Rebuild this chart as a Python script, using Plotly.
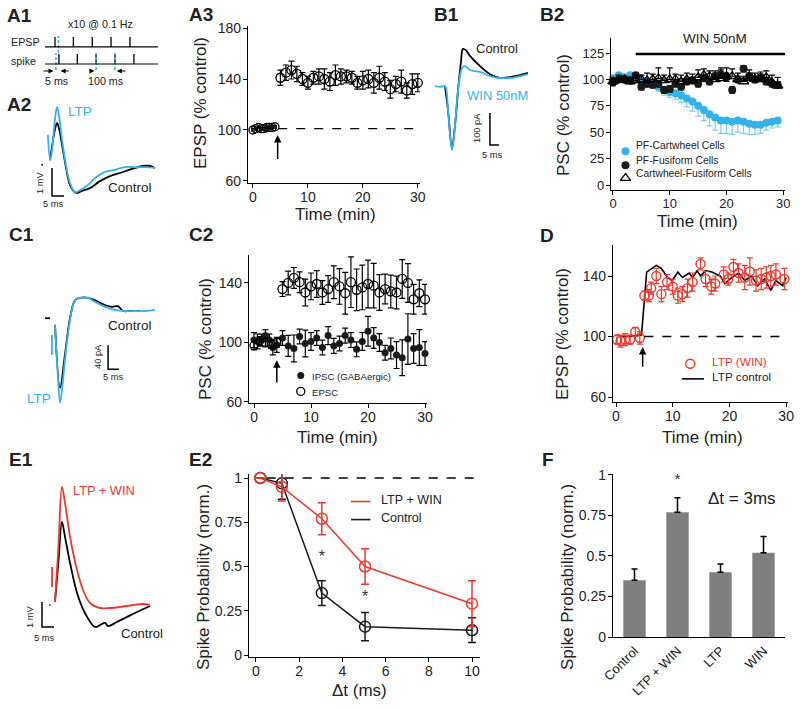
import plotly.graph_objects as go

W, H = 800, 710
FONT = "Arial, Liberation Sans, sans-serif"
DARK = "#222222"
BLUE = "#35b3e8"
BLUE_ERR = "#7fcdee"
RED = "#e83a2f"
GRAY = "#7f7f7f"

# ---------------- DATA ----------------
# A1 schematic (pulse times in units of 100 ms)
a1_epsp_pulses = [0.0, 0.98, 1.99, 2.99, 4.0]
a1_spike_pulses = [0.21, 1.19, 2.19, 3.2, 4.21]
a1_paired_epsp = [0.18]
a1_paired_spike = [0.05, 2.19, 3.2]

# A2 traces (ms, mV)
a2_ltp_t = [3.3, 4.2, 5.0, 6.2, 7.1, 7.9, 9.2, 10.8, 12.5, 14.6, 16.7, 20.0, 22.9, 27.1, 31.2, 35.4, 39.6, 43.8, 47.9]
a2_ltp_v = [2.86, 1.96, 2.3, 3.39, 3.86, 3.57, 2.68, 1.79, 1.14, 0.82, 0.89, 1.07, 1.32, 1.54, 1.61, 1.71, 1.71, 1.71, 1.68]
a2_ctl_t = [4.2, 6.2, 7.1, 7.9, 9.2, 10.8, 12.5, 15.0, 17.5, 20.8, 25.0, 29.2, 33.3, 39.6, 42.9, 45.8, 47.9]
a2_ctl_v = [1.96, 3.04, 3.29, 3.1, 2.5, 1.71, 1.07, 0.79, 0.86, 0.96, 1.21, 1.39, 1.5, 1.68, 1.75, 1.75, 1.68]

# A3 EPSP time course
a3_base_t = [0, 0.5, 1, 1.5, 2, 2.5, 3, 3.5, 4]
a3_base_v = [100, 101, 102, 101, 101, 102, 102, 102, 102.5]
a3_base_e = [1, 1, 1, 1, 1, 1, 1, 1, 1]
a3_post_t = [5, 6, 7, 8, 9, 10, 11, 12, 13, 14, 15, 16, 17, 18, 19, 20, 21, 22, 23, 24, 25, 26, 27, 28, 29, 30]
a3_post_v = [141, 145, 147, 144, 140, 137, 141, 142, 140, 138, 143, 142, 142, 141, 137, 139, 140, 137, 141, 138, 132, 136, 138, 131, 136, 137]
a3_post_e = [6, 6, 7, 6, 5, 5, 5, 6, 8, 7, 8, 6, 5, 5, 5, 7, 7, 8, 9, 7, 7, 6, 9, 6, 8, 7]

# B1 traces (ms, pA)
b1_win_t = [2.8, 5.6, 8.3, 10.0, 12.2, 13.9, 15.6, 17.8, 19.4, 22.2, 27.8, 33.3, 38.9, 44.4, 50.0, 54.4]
b1_win_i = [0, -3, 0, -75, -200, -122, -12, 56, 62, 50, 44, 31, 25, 25, 31, 37]
b1_ctl_t = [8.3, 10.0, 12.2, 13.9, 15.6, 17.2, 18.3, 20.0, 22.2, 27.8, 33.3, 38.9, 44.4, 50.0, 54.4]
b1_ctl_i = [0, -75, -194, -122, -12, 75, 116, 112, 94, 62, 37, 25, 28, 34, 41]

# B2 time course
b2_t = [0, 1, 2, 3, 4, 5, 6, 7, 8, 9, 10, 11, 12, 13, 14, 15, 16, 17, 18, 19, 20, 21, 22, 23, 24, 25, 26, 27, 28, 29]
b2_cart_v = [101, 104, 102, 104, 100, 99, 98, 96, 93, 90, 88, 87, 85, 82, 79, 75, 71, 67, 64, 61, 61, 60, 61, 60, 58, 57, 57, 59, 60, 61]
b2_cart_e = [2, 2, 2, 2, 2, 2, 2, 3, 4, 5, 5, 6, 7, 8, 9, 10, 10, 11, 12, 12, 12, 12, 11, 11, 10, 9, 8, 7, 6, 6]
b2_fus_v = [97, 100, 100, 99, 104, 93, 96, 95, 96, 90, 91, 96, 93, 98, 99, 96, 101, 98, 103, 105, 102, 90, 100, 110, 103, 100, 102, 98, 96, 95]
b2_fus_e = [3, 2, 3, 3, 2, 3, 3, 3, 3, 3, 3, 3, 3, 3, 3, 3, 3, 3, 3, 4, 4, 3, 3, 3, 3, 3, 3, 3, 3, 3]
b2_cf_v = [98, 100, 100, 98, 99, 100, 99, 100, 101, 99, 100, 100, 98, 100, 99, 102, 104, 103, 100, 101, 103, 103, 100, 98, 101, 100, 100, 102, 97, 94]
b2_cf_e = [3, 4, 3, 4, 5, 4, 7, 5, 10, 5, 11, 5, 6, 6, 6, 7, 6, 5, 8, 10, 8, 7, 6, 5, 8, 6, 7, 6, 7, 8]
b2_win_start = 4

# C1 traces (ms, pA)
c1_ltp_t = [9.1, 10.2, 11.4, 12.5, 13.6, 15.9, 18.2, 20.5, 24.1, 27.3, 31.8, 36.4, 40.9, 45.5, 50.0, 54.5]
c1_ltp_i = [-23, -98, -153, -123, -82, -15, 18, 22, 22, 15, 7, 2, 0, 0, 0, 2]
c1_ctl_t = [9.1, 11.4, 13.6, 15.9, 18.2, 20.5, 24.1, 27.3, 31.8, 35.0, 37.7, 40.0, 43.2, 47.7]
c1_ctl_i = [-23, -128, -73, -12, 18, 22, 22, 18, 10, 7, 8, 0, 0, 0]

# C2 time course
c2_ipsc_t = [0, 0.6, 1.3, 2, 2.7, 3.3, 4, 5, 6, 7, 8, 9, 10, 11, 12, 13, 14, 15, 16, 17, 18, 19, 20, 21, 22, 23, 24, 25, 26, 27, 28, 29, 30]
c2_ipsc_v = [101.6, 100.7, 101.6, 104.6, 101.6, 96.6, 98.4, 103, 97.7, 96, 104, 99.3, 100.7, 103, 96.6, 104.6, 97.7, 99.3, 104.6, 101.6, 95.4, 100.7, 107.5, 103, 100, 93.1, 96, 91.5, 89.7, 102.3, 96, 96.6, 92.5]
c2_ipsc_e = [5, 5, 4, 4, 4, 5, 5, 5, 7, 9, 5, 9, 6, 5, 5, 6, 5, 5, 5, 5, 5, 6, 10, 7, 6, 5, 7, 9, 12, 17, 10, 12, 8]
c2_epsc_base_t = [0, 1, 2, 3, 4]
c2_epsc_base_v = [98, 101, 100, 99, 100]
c2_epsc_base_e = [3, 3, 3, 3, 3]
c2_epsc_t = [5, 6, 7, 8, 9, 10, 11, 12, 13, 14, 15, 16, 17, 18, 19, 20, 21, 22, 23, 24, 25, 26, 27, 28, 29, 30]
c2_epsc_v = [135.9, 140, 143.4, 140.5, 133.6, 137.7, 139.3, 133.6, 135.9, 140.5, 137.7, 133.1, 140.5, 135.4, 137, 139.3, 138.2, 133.6, 135.9, 134.3, 133.6, 142.7, 140, 129, 133.1, 129]
c2_epsc_e = [5, 8, 7, 7, 9, 9, 9, 8, 9, 11, 12, 14, 17, 14, 15, 16, 15, 12, 10, 11, 11, 13, 13, 10, 9, 10]

# D time course
d_win_t = [0.2, 0.8, 1.6, 2.5, 3.4, 4.2, 5, 5.8, 6.2, 7.1, 8, 9, 10, 10.9, 11.7, 12.6, 13.5, 14.9, 15.8, 16.8, 17.5, 19, 19.8, 20.7, 21.6, 22.7, 23.6, 24.7, 25.6, 26.5, 27.3, 28.2, 29.7]
d_win_v = [98, 97, 98, 98, 103, 99, 127, 127, 132, 140, 128, 136, 133, 127, 128, 132, 136, 148, 138, 133, 135, 141, 138, 146, 142, 139, 143, 137, 138, 139, 140, 141, 138]
d_win_e = [3, 4, 4, 3, 3, 4, 3, 4, 4, 5, 5, 5, 5, 5, 5, 6, 6, 4, 5, 5, 5, 5, 4, 5, 6, 8, 9, 7, 7, 7, 7, 7, 7]
d_ctl_t = [0.5, 2, 4.5, 5.4, 7.1, 8, 9.1, 9.9, 10.9, 11.7, 12.9, 13.5, 14.3, 14.9, 15.8, 16.9, 18.4, 19.2, 20.4, 21.6, 22.7, 23.9, 25, 26.2, 27.3, 28.2, 29.4, 30]
d_ctl_v = [100, 100, 101, 142.6, 147, 145, 139, 137, 142.6, 139, 142, 139, 143.5, 140, 143.5, 142.6, 140, 135, 139, 142, 137, 140, 133.5, 138, 130.5, 137, 133.5, 139]

# E1 traces (ms, mV)
e1_win_t = [10.4, 11.9, 13.3, 14.6, 16.7, 19.6, 22.1, 25.0, 29.2, 33.3, 37.5, 42.9, 47.1, 50.0]
e1_win_v = [1.92, 4.2, 6.52, 5.88, 4.52, 3.2, 2.4, 1.88, 1.68, 1.68, 1.72, 1.8, 1.84, 1.8]
e1_ctl_t = [10.4, 11.9, 13.3, 14.6, 16.7, 19.6, 22.9, 27.1, 29.2, 31.25, 32.5, 36.25, 40.4, 44.6, 50.0]
e1_ctl_v = [1.92, 3.6, 5.12, 4.52, 3.48, 2.28, 1.48, 0.92, 1.0, 1.08, 0.96, 1.12, 1.32, 1.52, 1.76]

# E2 spike probability vs delta t
e2_dt = [0.2, 1.2, 3.05, 5.05, 10]
e2_win_v = [1, 0.95, 0.77, 0.5, 0.29]
e2_win_e = [0, 0.08, 0.09, 0.1, 0.13]
e2_ctl_v = [1, 0.97, 0.35, 0.16, 0.14]
e2_ctl_e = [0, 0.09, 0.07, 0.08, 0.07]
e2_sig_dt = [3.05, 5.05]
e2_sig_y = [0.55, 0.32]

# F bar chart
f_cats = ["Control", "LTP + WIN", "LTP", "WIN"]
f_vals = [0.35, 0.77, 0.40, 0.52]
f_errs = [0.07, 0.09, 0.05, 0.10]

# ---------------- FIGURE ----------------
fig = go.Figure()
layout = dict(width=W, height=H, autosize=False, margin=dict(l=0, r=0, t=0, b=0, pad=0, autoexpand=False),
              paper_bgcolor="white", plot_bgcolor="white", showlegend=False,
              font=dict(family=FONT, color=DARK))
shapes = []
anns = []


def ref(i):
    return ("x" if i == 1 else f"x{i}", "y" if i == 1 else f"y{i}")


def add_axes(i, x0, x1, y0, y1, xr, yr, visible=False, xticks=None, yticks=None,
             tsize=14, xcat=False):
    xn, yn = ref(i)
    xk = "xaxis" if i == 1 else f"xaxis{i}"
    yk = "yaxis" if i == 1 else f"yaxis{i}"
    base = dict(showgrid=False, zeroline=False, fixedrange=True, automargin=False)
    if visible:
        st = dict(showline=True, linecolor="black", linewidth=1.3, ticks="outside",
                  ticklen=4, tickwidth=1.3, tickcolor="black",
                  tickfont=dict(family=FONT, size=tsize, color=DARK))
    else:
        st = dict(visible=False)
    xa = dict(domain=[x0 / W, x1 / W], range=xr, anchor=yn, **base, **st)
    ya = dict(domain=[1 - y1 / H, 1 - y0 / H], range=yr, anchor=xn, **base, **st)
    if visible:
        xa["ticklabelstandoff"] = -3
        ya["ticklabelstandoff"] = -1
    if xticks is not None:
        xa.update(tickmode="array", tickvals=xticks)
    if yticks is not None:
        ya.update(tickmode="array", tickvals=yticks)
    if xcat:
        xa.update(type="category", ticks="", tickangle=-45, ticklabelstandoff=0,
                  tickfont=dict(family=FONT, size=13, color=DARK))
    layout[xk] = xa
    layout[yk] = ya


def add(i, **kw):
    xn, yn = ref(i)
    kw.setdefault("cliponaxis", False)
    fig.add_trace(go.Scatter(xaxis=xn, yaxis=yn, hoverinfo="skip", **kw))


def txt(s, x, y, size=13, color=DARK, xanchor="center", yanchor="middle", angle=0, bold=False):
    if bold:
        s = f"<b>{s}</b>"
    anns.append(dict(text=s, x=x / W, y=1 - y / H, xref="paper", yref="paper",
                     xanchor=xanchor, yanchor=yanchor, showarrow=False, textangle=angle,
                     font=dict(family=FONT, size=size, color=color)))


def arrow(i, x, y, axv, ayv, width=1.5):
    xn, yn = ref(i)
    anns.append(dict(text="", x=x, y=y, ax=axv, ay=ayv, xref=xn, yref=yn, axref=xn, ayref=yn,
                     showarrow=True, arrowhead=2, arrowsize=1, arrowwidth=width, arrowcolor="black"))


def hline(i, x0, x1, y, dash="dash", width=1.3, color="black"):
    xn, yn = ref(i)
    shapes.append(dict(type="line", xref=xn, yref=yn, x0=x0, x1=x1, y0=y, y1=y,
                       line=dict(color=color, width=width, dash=dash)))


# ---- axes ----
add_axes(1, 40, 165, 25, 95, [-0.8, 5.87], [-1.82, 2.29])               # A1 schematic
add_axes(2, 40, 165, 100, 215, [0, 52.08], [0, 4.107])                  # A2 traces
add_axes(3, 248, 420, 26, 183, [-0.9, 30.4], [58.4, 181.6], True, [0, 10, 20, 30], [60, 100, 140, 180])
add_axes(4, 430, 535, 40, 160, [0, 58.33], [-231.25, 143.75])           # B1 traces
add_axes(5, 611, 785, 38, 190, [-0.35, 30.3], [-4.7, 139.2], True, [0, 10, 20, 30], [0, 25, 50, 75, 100, 125], tsize=13)
add_axes(6, 35, 160, 280, 410, [0, 56.8], [-165, 51.7])                 # C1 traces
add_axes(7, 249, 427, 255, 403, [-0.88, 30.35], [59.3, 158.8], True, [0, 10, 20, 30], [60, 100, 140])
add_axes(8, 613, 788, 245, 402, [-0.53, 30.33], [56.7, 160.5], True, [0, 10, 20, 30], [60, 100, 140])
add_axes(9, 30, 160, 480, 650, [0, 54.17], [0, 6.8])                    # E1 traces
add_axes(10, 249, 480, 474, 657, [-0.32, 10.37], [-0.0113, 1.0226], True, [0, 2, 4, 6, 8, 10], [0, 0.25, 0.5, 0.75, 1])
add_axes(11, 613, 785, 474, 637, [-0.5, 3.5], [0, 1.006], True, None, [0, 0.25, 0.5, 0.75, 1], xcat=True)

# ---- A1 schematic ----
for base_y, pulses in ((1, a1_epsp_pulses), (0, a1_spike_pulses)):
    hline(1, -0.53, 5.49, base_y, dash="solid", width=1.2)
    xs, ys = [], []
    for p in pulses:
        xs += [p, p, None]
        ys += [base_y, base_y + 0.59, None]
    add(1, x=xs, y=ys, mode="lines", line=dict(color="black", width=1.3))
for base_y, pulses in ((1, a1_paired_epsp), (0, a1_paired_spike)):
    xs, ys = [], []
    for p in pulses:
        xs += [p, p, None]
        ys += [base_y - 0.35, base_y + 0.65, None]
    add(1, x=xs, y=ys, mode="lines", line=dict(color=BLUE, width=1.5, dash="3px,2px"))
arrow(1, -0.08, -0.41, -0.69, -0.41, 1)
arrow(1, 0.3, -0.41, 0.8, -0.41, 1)
arrow(1, 2.1, -0.41, 1.85, -0.41, 1)
arrow(1, 3.3, -0.41, 3.85, -0.41, 1)
txt("x10 @ 0.1 Hz", 100, 24, 10.7)
txt("EPSP", 42, 42, 10.7, xanchor="right")
txt("spike", 38, 61, 10.7, xanchor="right")
txt("5 ms", 57, 81, 10.7)
txt("100 ms", 105, 81, 10.7)

# ---- A2 traces ----
add(2, x=[0.6, 1.2], y=[1.79, 1.79], mode="lines", line=dict(color="black", width=1.8))
add(2, x=a2_ctl_t, y=a2_ctl_v, mode="lines", line=dict(color="black", width=1.8, shape="spline"))
add(2, x=a2_ltp_t, y=a2_ltp_v, mode="lines", line=dict(color=BLUE, width=1.8, shape="spline"))
add(2, x=[5, 5, 10], y=[1.68, 0.68, 0.68], mode="lines", line=dict(color="black", width=1.5))
txt("LTP", 66, 111, 13.5, BLUE, xanchor="left")
txt("Control", 130, 187, 13.5)
txt("1 mV", 40, 183, 9.3, angle=-90)
txt("5 ms", 53, 204, 9.3)

# ---- A3 ----
add(3, x=a3_base_t, y=a3_base_v, mode="markers",
    marker=dict(symbol="circle-open", size=8, color="black", line=dict(width=1.3)),
    error_y=dict(type="data", array=a3_base_e, color="black", thickness=1.2, width=2))
add(3, x=a3_post_t, y=a3_post_v, mode="markers",
    marker=dict(symbol="circle-open", size=9, color="black", line=dict(width=1.3)),
    error_y=dict(type="data", array=a3_post_e, color="black", thickness=1.2, width=3))
hline(3, 4.6, 30, 101)
arrow(3, 4.5, 96, 4.5, 76)
txt("EPSP (% control)", 200, 103, 17, angle=-90)
txt("Time (min)", 335, 214, 17)

# ---- B1 traces ----
add(4, x=b1_ctl_t, y=b1_ctl_i, mode="lines", line=dict(color="black", width=1.8, shape="spline"))
add(4, x=b1_win_t, y=b1_win_i, mode="lines", line=dict(color=BLUE, width=1.8, shape="spline"))
add(4, x=[33.3, 33.3, 38.3], y=[-84, -184, -184], mode="lines", line=dict(color="black", width=1.5))
txt("Control", 497, 48, 13)
txt("WIN 50nM", 497, 95, 13, BLUE)
txt("100 pA", 477, 128, 9.3, angle=-90)
txt("5 ms", 492, 155, 9.3)

# ---- B2 ----
add(5, x=b2_t, y=b2_cart_v, mode="markers",
    marker=dict(symbol="circle", size=8, color=BLUE),
    error_y=dict(type="data", symmetric=False, array=[0] * len(b2_t), arrayminus=b2_cart_e,
                 color=BLUE_ERR, thickness=1.2, width=3))
add(5, x=b2_t, y=b2_fus_v, mode="markers",
    marker=dict(symbol="circle", size=8, color="#1a1a1a"),
    error_y=dict(type="data", array=b2_fus_e, color="black", thickness=1.2, width=3))
add(5, x=b2_t, y=b2_cf_v, mode="markers",
    marker=dict(symbol="triangle-up-open", size=9, color="black", line=dict(width=1.3)),
    error_y=dict(type="data", symmetric=False, array=b2_cf_e, arrayminus=[0] * len(b2_t),
                 color="black", thickness=1.2, width=3))
hline(5, b2_win_start, 30.3, 124, dash="solid", width=2.5)
txt("WIN 50nM", 715, 38, 13.5)
txt("PSC (% control)", 563, 115, 17, angle=-90)
txt("Time (min)", 697, 221, 17)
# legend
add(5, x=[2.2], y=[32], mode="markers", marker=dict(symbol="circle", size=8, color=BLUE))
add(5, x=[2.2], y=[18.8], mode="markers", marker=dict(symbol="circle", size=8, color="#1a1a1a"))
add(5, x=[2.2], y=[6.5], mode="markers", marker=dict(symbol="triangle-up-open", size=9, color="black", line=dict(width=1.3)))
txt("PF-Cartwheel Cells", 634, 146, 10.3, xanchor="left")
txt("PF-Fusiform Cells", 634, 160, 10.3, xanchor="left")
txt("Cartwheel-Fusiform Cells", 634, 173, 10.3, xanchor="left")

# ---- C1 traces ----
add(6, x=[4.5, 6.8], y=[-12, -12], mode="lines", line=dict(color="black", width=1.8))
add(6, x=[7.7, 7.7], y=[-40, -73], mode="lines", line=dict(color=BLUE, width=1.8))
add(6, x=c1_ctl_t, y=c1_ctl_i, mode="lines", line=dict(color="black", width=1.8, shape="spline"))
add(6, x=c1_ltp_t, y=c1_ltp_i, mode="lines", line=dict(color=BLUE, width=1.8, shape="spline"))
add(6, x=[33.2, 33.2, 38.2], y=[-57, -97, -97], mode="lines", line=dict(color="black", width=1.5))
txt("Control", 130, 325, 13.5)
txt("LTP", 39, 398, 13.5, BLUE)
txt("40 pA", 98, 357, 9.3, angle=-90)
txt("5 ms", 113, 377, 9.3)

# ---- C2 ----
add(7, x=c2_ipsc_t, y=c2_ipsc_v, mode="markers",
    marker=dict(symbol="circle", size=7, color="#1a1a1a"),
    error_y=dict(type="data", array=c2_ipsc_e, color="black", thickness=1.2, width=3))
add(7, x=c2_epsc_base_t, y=c2_epsc_base_v, mode="markers",
    marker=dict(symbol="circle-open", size=8, color="black", line=dict(width=1.3)),
    error_y=dict(type="data", array=c2_epsc_base_e, color="black", thickness=1.2, width=3))
add(7, x=c2_epsc_t, y=c2_epsc_v, mode="markers",
    marker=dict(symbol="circle-open", size=9, color="black", line=dict(width=1.3)),
    error_y=dict(type="data", array=c2_epsc_e, color="black", thickness=1.2, width=3))
arrow(7, 4, 88, 4, 72)
add(7, x=[8.2], y=[77.8], mode="markers", marker=dict(symbol="circle", size=7, color="#1a1a1a"))
add(7, x=[8.2], y=[67.1], mode="markers", marker=dict(symbol="circle-open", size=8, color="black", line=dict(width=1.3)))
txt("IPSC (GABAergic)", 310, 376, 9.6, xanchor="left")
txt("EPSC", 310, 392, 9.6, xanchor="left")
txt("PSC (% control)", 205, 339, 17, angle=-90)
txt("Time (min)", 337, 438, 17)

# ---- D ----
add(8, x=d_ctl_t, y=d_ctl_v, mode="lines", line=dict(color="black", width=1.6))
add(8, x=d_win_t, y=d_win_v, mode="markers",
    marker=dict(symbol="circle-open", size=9, color=RED, line=dict(width=1.4)),
    error_y=dict(type="data", array=d_win_e, color=RED, thickness=1.2, width=3))
hline(8, 5, 30, 100)
arrow(8, 4.7, 93, 4.7, 79)
add(8, x=[13.1], y=[82], mode="markers", marker=dict(symbol="circle-open", size=9, color=RED, line=dict(width=1.4)))
hline(8, 11.6, 15.5, 72, dash="solid", width=1.6)
txt("LTP (WIN)", 710, 362, 11.8, RED, xanchor="left")
txt("LTP control", 710, 377.5, 11.8, xanchor="left")
txt("EPSP (% control)", 562, 334, 17, angle=-90)
txt("Time (min)", 702, 438, 17)

# ---- E1 traces ----
add(9, x=[9.2, 9.2], y=[3.32, 2.52], mode="lines", line=dict(color=RED, width=1.8))
add(9, x=[8.1, 8.5], y=[1.8, 1.8], mode="lines", line=dict(color="black", width=1.8))
add(9, x=e1_ctl_t, y=e1_ctl_v, mode="lines", line=dict(color="black", width=1.8, shape="spline"))
add(9, x=e1_win_t, y=e1_win_v, mode="lines", line=dict(color=RED, width=1.8, shape="spline"))
add(9, x=[5, 5, 10], y=[1.92, 0.92, 0.92], mode="lines", line=dict(color="black", width=1.5))
txt("LTP + WIN", 104, 490, 12.8, RED)
txt("Control", 142, 633, 13)
txt("1 mV", 30, 617, 9.3, angle=-90)
txt("5 ms", 44, 638, 9.3)

# ---- E2 ----
hline(10, 0.5, 10.5, 1)
add(10, x=e2_dt, y=e2_ctl_v, mode="lines+markers", line=dict(color="#1a1a1a", width=1.5),
    marker=dict(symbol="circle-open", size=11, color="#1a1a1a", line=dict(width=1.5)),
    error_y=dict(type="data", array=e2_ctl_e, color="#1a1a1a", thickness=1.5, width=4))
add(10, x=e2_dt, y=e2_win_v, mode="lines+markers", line=dict(color=RED, width=1.5),
    marker=dict(symbol="circle-open", size=11, color=RED, line=dict(width=1.5)),
    error_y=dict(type="data", array=e2_win_e, color=RED, thickness=1.5, width=4))
add(10, x=e2_sig_dt, y=e2_sig_y, mode="text", text=["*", "*"],
    textfont=dict(family=FONT, size=16, color="#333"))
hline(10, 4.4, 5.3, 0.867, dash="solid", width=1.6, color=RED)
hline(10, 4.4, 5.3, 0.765, dash="solid", width=1.6, color="#1a1a1a")
txt("LTP + WIN", 379, 500, 12.6, xanchor="left")
txt("Control", 379, 518, 12.6, xanchor="left")
txt("Spike Probability (norm.)", 203, 577, 17, angle=-90)
txt("\u0394t (ms)", 359, 690, 17)

# ---- F ----
fig.add_trace(go.Bar(x=f_cats, y=f_vals, xaxis="x11", yaxis="y11", width=0.52,
                     marker=dict(color=GRAY, line=dict(width=0)),
                     error_y=dict(type="data", symmetric=False, array=f_errs,
                                  arrayminus=[0, 0, 0, 0], color="black", thickness=1.5, width=3),
                     hoverinfo="skip"))
add(11, x=["LTP + WIN"], y=[0.965], mode="text", text=["*"], textfont=dict(family=FONT, size=15, color="#333"))
txt("\u0394t = 3ms", 742, 499, 17)
txt("Spike Probability (norm.)", 567, 577, 17, angle=-90)

# ---- panel letters ----
for lab, x, y in [("A1", 5, 16), ("A2", 5, 104), ("A3", 187, 15), ("B1", 432, 15), ("B2", 538, 15),
                  ("C1", 7, 234), ("C2", 187, 234), ("D", 538, 235), ("E1", 7, 459),
                  ("E2", 187, 459), ("F", 540, 459)]:
    txt(lab, x, y, 19, "#222", xanchor="left", bold=True)

layout["shapes"] = shapes
layout["annotations"] = anns
fig.update_layout(**layout)
fig.write_html("out.html", config={"displayModeBar": False},
               post_script="document.body.style.margin='0';document.body.style.padding='0';")
